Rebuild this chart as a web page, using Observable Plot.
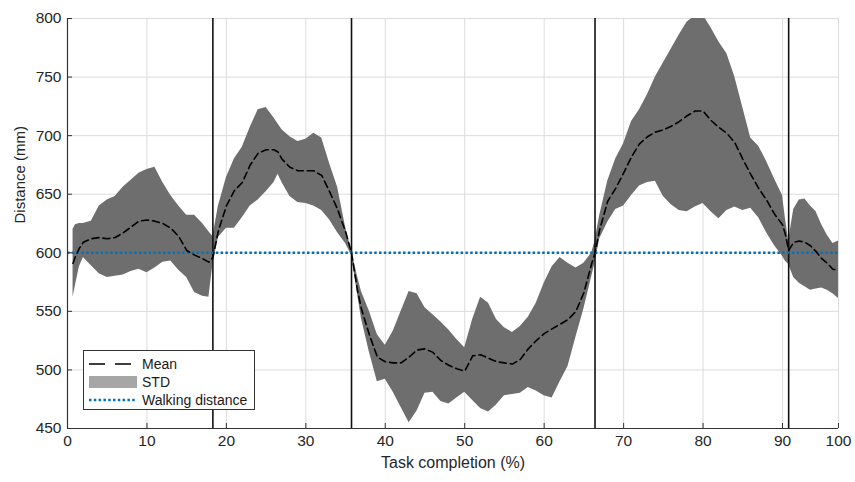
<!DOCTYPE html>
<html><head><meta charset="utf-8">
<script src="https://cdn.jsdelivr.net/npm/d3@7"></script>
<script src="https://cdn.jsdelivr.net/npm/@observablehq/plot@0.6"></script>
<style>
body{margin:0;background:#fff;font-family:"Liberation Sans",Arial,Helvetica,sans-serif;}
#wrap{position:relative;width:855px;height:482px;}
#legend{position:absolute;left:83px;top:350px;width:172px;height:60px;border:1px solid #333;background:#fff;font-size:14px;color:#1a1a1a;box-sizing:border-box;}
.row{position:absolute;left:0;height:18px;display:flex;align-items:center;}
.row svg{margin-left:5px;margin-right:5px;}
</style></head><body>
<div id="wrap"><div id="legend"></div></div>
<script>
// Data
const xs    = [0.7,1,1.5,2,3,4,5,6,7,8,9,10,11,12,13,14,15,16,17,17.8,18.3,19,20,21,22,23,24,25,26,26.5,27,28,29,30,31,32,33,34,35,35.75,36.5,37,38,39,40,41,42,43,44,45,46,47,48,49,50,51,52,53,54,55,56,57,58,59,60,61,62,63,64,65,66,66.4,67,68,69,70,71,72,73,74,75,76,77,78,79,80,81,82,83,84,85,86,87,88,89,90,90.5,91.1,92,93,94,95,96,97,98,99,100];
const meanV = [591,597,604,609,612,613,612,613,617,622,627,628,627,625,621,614,602,598,595,592,596,619,640,653,660,675,685,688,688,686,680,673,670,670,670,666,652,637,618,600,568,552,530,511,507,506,506,511,517,518,515,508,504,501,499,512,513,510,507,506,505,509,518,525,531,535,539,543,550,566,591,600,620,644,655,668,682,693,699,703,705,708,712,717,721,721,713,707,702,694,680,667,655,645,633,624,616,602,609,610,609,606,601,595,591,586,585];
const stdLo = [562,572,588,596,589,582,579,580,581,584,586,583,587,592,593,585,579,566,563,562,590,613,621,621,630,640,645,652,660,667,660,648,643,642,640,636,628,617,608,598,565,544,515,490,492,481,468,455,465,480,481,473,471,476,481,474,467,464,470,478,479,480,485,482,478,476,490,503,528,552,580,591,612,626,637,640,649,657,660,661,648,641,636,635,639,642,635,629,636,639,636,638,630,617,606,597,593,590,579,574,571,568,569,570,568,565,561];
const stdHi = [620,624,625,625,627,640,645,648,656,662,668,671,673,660,649,640,632,632,625,618,614,640,664,680,690,707,722,724,715,710,705,699,695,697,702,698,676,656,622,602,580,567,550,530,521,533,550,567,565,553,547,541,534,526,519,543,562,557,543,536,532,537,545,557,574,588,596,591,587,591,600,610,632,661,680,693,712,722,735,750,762,774,786,797,802,803,792,780,770,750,724,698,691,678,663,649,630,610,637,645,646,640,635,624,615,608,610];
const phaseBounds = [18.3, 35.75, 66.4, 91.1];
const walkingDistance = [600];
const xTicks = [0,10,20,30,40,50,60,70,80,90,100];
const yTicks = [450,500,550,600,650,700,750,800];
const xLabel = "Task completion (%)";
const yLabel = "Distance (mm)";
const legendLabels = ["Mean","STD","Walking distance"];

const rows = xs.map((x,i)=>({x, mean: meanV[i], lo: stdLo[i], hi: stdHi[i]}));

const axisColor = "#333";
const plot = Plot.plot({
  width: 855, height: 482,
  marginLeft: 67, marginRight: 17, marginTop: 18, marginBottom: 54,
  style: {fontFamily: "'Liberation Sans', Arial, Helvetica, sans-serif", fontSize: "15px", color: "#262626", background: "white"},
  x: {type: "linear", domain: [0, 90, 100], range: [67, 782, 838]},
  y: {domain: [450, 800]},
  marks: [
    Plot.ruleX(xTicks, {stroke: "#dcdcdc", strokeWidth: 1}),
    Plot.ruleY(yTicks, {stroke: "#dcdcdc", strokeWidth: 1}),
    Plot.areaY(rows, {x: "x", y1: "lo", y2: "hi", fill: "#6e6e6e", clip: true}),
    Plot.ruleX(phaseBounds, {stroke: "#111", strokeWidth: 1.6}),
    Plot.ruleY(walkingDistance, {stroke: "#0072BD", strokeWidth: 2.6, strokeDasharray: "2.5,2.3"}),
    Plot.line(rows, {x: "x", y: "mean", stroke: "#000", strokeWidth: 1.6, strokeDasharray: "7,4"}),
    // axis lines
    Plot.ruleY([450], {stroke: axisColor, strokeWidth: 1.2}),
    Plot.ruleX([0], {stroke: axisColor, strokeWidth: 1.2}),
    // inward ticks
    Plot.ruleX(xTicks, {y1: 450, y2: 454.3, stroke: axisColor}),
    Plot.ruleY(yTicks, {x1: 0, x2: 0.63, stroke: axisColor}),
    Plot.axisX(xTicks, {tickSize: 0, tickPadding: 6, label: null, fontSize: 15.5}),
    Plot.axisY(yTicks, {tickSize: 0, tickPadding: 6, label: null, fontSize: 15.5}),
    Plot.text([xLabel], {frameAnchor: "bottom", dy: 39, fontSize: 16, fill: "#262626"}),
    Plot.text([yLabel], {frameAnchor: "left", dx: -47, rotate: -90, fontSize: 15, fill: "#262626"})
  ]
});
document.getElementById("wrap").prepend(plot);

// legend
const lg = document.getElementById("legend");
const swatches = [
  `<svg width="48" height="10"><line x1="0" y1="5" x2="48" y2="5" stroke="#000" stroke-width="1.6" stroke-dasharray="16,10"/></svg>`,
  `<svg width="48" height="14"><rect x="0" y="1" width="48" height="12" fill="#a6a6a6"/></svg>`,
  `<svg width="48" height="10"><line x1="0" y1="5" x2="48" y2="5" stroke="#0072BD" stroke-width="2.6" stroke-dasharray="2.5,2.3"/></svg>`
];
legendLabels.forEach((t,i)=>{
  const d = document.createElement("div");
  d.className = "row";
  d.style.top = (4 + i*18) + "px";
  d.innerHTML = swatches[i] + `<span>${t}</span>`;
  lg.appendChild(d);
});
</script>
</body></html>
